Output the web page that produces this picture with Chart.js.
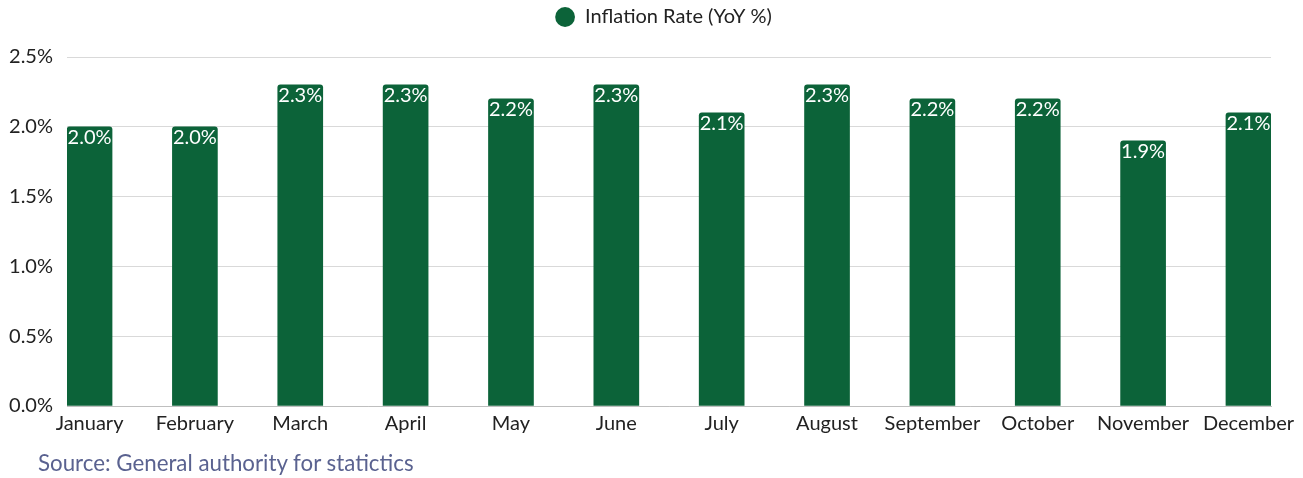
<!DOCTYPE html>
<html>
<head>
<meta charset="utf-8">
<script src="https://cdn.jsdelivr.net/npm/chart.js@4/dist/chart.umd.min.js"></script>
<style>
    body { margin: 0; background: #fff; }
    #wrap { position: relative; width: 1303px; height: 478px; }
    #source {
        position: absolute; left: 38px; top: 449px;
        font-family: Lato, sans-serif; font-size: 22.3px; color: #5a6290;
    }
</style>
</head>
<body>
<div id="wrap">
    <canvas id="myChart" width="1303" height="478"></canvas>
    <div id="source">Source: General authority for statictics</div>
</div>
<script>
// Monthly inflation
const months = ["January", "February", "March", "April", "May", "June",
    "July", "August", "September", "October", "November", "December"];
const inflation = [2.0, 2.0, 2.3, 2.3, 2.2, 2.3, 2.1, 2.3, 2.2, 2.2, 1.9, 2.1];
const yTicks = [0, 0.5, 1.0, 1.5, 2.0, 2.5];

const green = "#0c6339";
const font = "Lato, sans-serif";

// white value text at the top inside each bar
const barLabels = {
    id: "barLabels",
    afterDatasetsDraw(chart) {
        const ctx = chart.ctx;
        const meta = chart.getDatasetMeta(0);
        ctx.save();
        ctx.fillStyle = "#ffffff";
        ctx.font = "20px " + font;
        ctx.textAlign = "center";
        ctx.textBaseline = "middle";
        meta.data.forEach((bar, i) => {
            ctx.fillText(inflation[i].toFixed(1) + "%", bar.x, bar.y + 11);
        });
        ctx.restore();
    }
};

// move the legend a bit right and up, like the original
const legendShift = {
    id: "legendShift",
    afterLayout(chart) {
        const lg = chart.legend;
        lg.left += 28;
        lg.right += 28;
        lg.top -= 20;
        lg.bottom -= 20;
    }
};

new Chart(document.getElementById("myChart"), {
    type: "bar",
    data: {
        datasets: [{
            label: "Inflation Rate (YoY %)",
            data: inflation.map((v, i) => ({ x: i, y: v })),
            backgroundColor: green,
            borderRadius: { topLeft: 3, topRight: 3 },
            borderSkipped: "bottom",
            barThickness: 45,
        }]
    },
    options: {
        responsive: false,
        animation: false,
        layout: { padding: { top: 15, right: 32, bottom: 44, left: 0 } },
        plugins: {
            legend: {
                labels: {
                    usePointStyle: true,
                    pointStyle: "circle",
                    boxHeight: 14,
                    color: "#222",
                    padding: 12,
                    font: { family: font, size: 20 }
                }
            },
            tooltip: { enabled: false }
        },
        scales: {
            x: {
                type: "linear",
                min: -0.214,
                max: 11.214,
                offset: false,
                afterBuildTicks: (s) => { s.ticks = months.map((m, i) => ({ value: i })); },
                ticks: {
                    autoSkip: false,
                    maxRotation: 0,
                    color: "#222",
                    padding: -2,
                    font: { family: font, size: 20 },
                    callback: (v) => months[v]
                },
                grid: { display: false },
                border: { color: "#bfbfbf" }
            },
            y: {
                min: 0,
                max: 2.5,
                afterBuildTicks: (s) => { s.ticks = yTicks.map(v => ({ value: v })); },
                afterFit: (s) => { s.width = 67; },
                ticks: {
                    color: "#222",
                    padding: 14,
                    font: { family: font, size: 20 },
                    callback: (v) => v.toFixed(1) + "%"
                },
                grid: { color: "#d9d9d9", drawTicks: false },
                border: { display: false }
            }
        }
    },
    plugins: [barLabels, legendShift]
});
</script>
</body>
</html>
